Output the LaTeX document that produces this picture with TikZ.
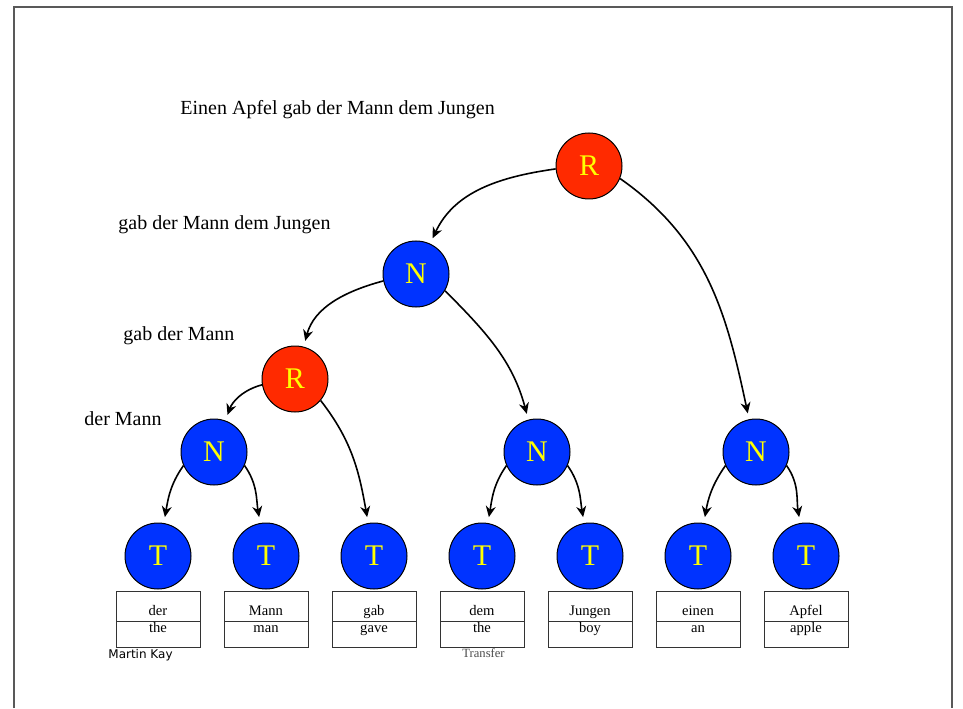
\documentclass[tikz,border=0pt]{standalone}
\usepackage{fontspec}
\setmainfont{Liberation Serif}
\newfontfamily\kayfont{DejaVu Sans}
\usepackage{tikz}
\usetikzlibrary{arrows.meta}

\definecolor{rootred}{HTML}{FF2A00}
\definecolor{nodeblue}{HTML}{0033FF}
\definecolor{letteryellow}{HTML}{FFFF00}

\tikzset{
	knot/.style = {circle, draw = black, line width = 0.5pt, minimum size = 33pt, inner sep = 0pt, text = letteryellow, font = \fontsize{15}{15}\selectfont},
	rnode/.style = {knot, fill = rootred},
	nnode/.style = {knot, fill = nodeblue},
	leaf/.style = {knot, fill = nodeblue},
	edge/.style = {line width = 0.8pt, -{Stealth[length = 5.5pt, width = 5pt]}, shorten > = 3pt},
	cell/.style = {draw = black!80, line width = 0.5pt},
	word/.style = {anchor = base, inner sep = 0pt, font = \fontsize{7.3}{8}\selectfont},
	phrase/.style = {anchor = base west, inner sep = 0pt, font = \fontsize{10}{12}\selectfont}
}

\begin{document}
\begin{tikzpicture}[x = 0.5pt, y = 0.5pt]
		\def\w{42};
		\def\ty{152};

		\useasboundingbox (0,0) rectangle (963,708);
		\draw [draw = black!65, line width = 0.8pt] (14,0) -- (14,701) -- (952,701) -- (952,0);

		% phrases
		\node [phrase] (p1) at (180,593) {Einen Apfel gab der Mann dem Jungen};
		\node [phrase] (p2) at (118,478) {gab der Mann dem Jungen};
		\node [phrase] (p3) at (123,368) {gab der Mann};
		\node [phrase] (p4) at (84,283) {der Mann};

		% tree
		\node [rnode] (r1) at (589,542) {R};
		\node [nnode] (n2) at (416,434) {N};
		\node [rnode] (r3) at (295,329) {R};
		\node [nnode] (n4) at (214,256) {N};
		\node [nnode] (n5) at (537,256) {N};
		\node [nnode] (n6) at (756,256) {N};

		\begin{scope}[shift = {(158,0)}]
			\node [leaf] (t1) at (0,\ty) {T};
			\draw [cell] (-\w,117) rectangle (\w,61);
			\draw [cell] (-\w,87) -- (\w,87);
			\node [word] (de1) at (0,93) {der};
			\node [word] (en1) at (0,76) {the};
		\end{scope}

		\begin{scope}[shift = {(266,0)}]
			\node [leaf] (t2) at (0,\ty) {T};
			\draw [cell] (-\w,117) rectangle (\w,61);
			\draw [cell] (-\w,87) -- (\w,87);
			\node [word] (de2) at (0,93) {Mann};
			\node [word] (en2) at (0,76) {man};
		\end{scope}

		\begin{scope}[shift = {(374,0)}]
			\node [leaf] (t3) at (0,\ty) {T};
			\draw [cell] (-\w,117) rectangle (\w,61);
			\draw [cell] (-\w,87) -- (\w,87);
			\node [word] (de3) at (0,93) {gab};
			\node [word] (en3) at (0,76) {gave};
		\end{scope}

		\begin{scope}[shift = {(482,0)}]
			\node [leaf] (t4) at (0,\ty) {T};
			\draw [cell] (-\w,117) rectangle (\w,61);
			\draw [cell] (-\w,87) -- (\w,87);
			\node [word] (de4) at (0,93) {dem};
			\node [word] (en4) at (0,76) {the};
		\end{scope}

		\begin{scope}[shift = {(590,0)}]
			\node [leaf] (t5) at (0,\ty) {T};
			\draw [cell] (-\w,117) rectangle (\w,61);
			\draw [cell] (-\w,87) -- (\w,87);
			\node [word] (de5) at (0,93) {Jungen};
			\node [word] (en5) at (0,76) {boy};
		\end{scope}

		\begin{scope}[shift = {(698,0)}]
			\node [leaf] (t6) at (0,\ty) {T};
			\draw [cell] (-\w,117) rectangle (\w,61);
			\draw [cell] (-\w,87) -- (\w,87);
			\node [word] (de6) at (0,93) {einen};
			\node [word] (en6) at (0,76) {an};
		\end{scope}

		\begin{scope}[shift = {(806,0)}]
			\node [leaf] (t7) at (0,\ty) {T};
			\draw [cell] (-\w,117) rectangle (\w,61);
			\draw [cell] (-\w,87) -- (\w,87);
			\node [word] (de7) at (0,93) {Apfel};
			\node [word] (en7) at (0,76) {apple};
		\end{scope}

		% edges
		\draw [edge] (r1.185) to [out = 188, in = 65] (n2);
		\draw [edge] (r1.-22) to [out = -35, in = 102] (n6);
		\draw [edge] (n2.192) to [out = 195, in = 75] (r3);
		\draw [edge] (n2.-30) to [out = -45, in = 105] (n5);
		\draw [edge] (r3.190) to [out = 195, in = 70] (n4);
		\draw [edge] (r3.-40) to [out = -52, in = 100] (t3);
		\draw [edge] (n4.204) to [out = 235, in = 80] (t1);
		\draw [edge] (n4.-24) to [out = -55, in = 100] (t2);
		\draw [edge] (n5.204) to [out = 235, in = 80] (t4);
		\draw [edge] (n5.-24) to [out = -55, in = 100] (t5);
		\draw [edge] (n6.204) to [out = 235, in = 80] (t6);
		\draw [edge] (n6.-24) to [out = -55, in = 100] (t7);

		% credits
		\node [anchor = base west, inner sep = 0pt, font = \kayfont\fontsize{6}{7}\selectfont] (kay) at (108,50) {Martin Kay};
		\node [anchor = base west, inner sep = 0pt, text = black!70, font = \fontsize{6.3}{7}\selectfont] (tr) at (462,51) {Transfer};
	\end{tikzpicture}
\end{document}
